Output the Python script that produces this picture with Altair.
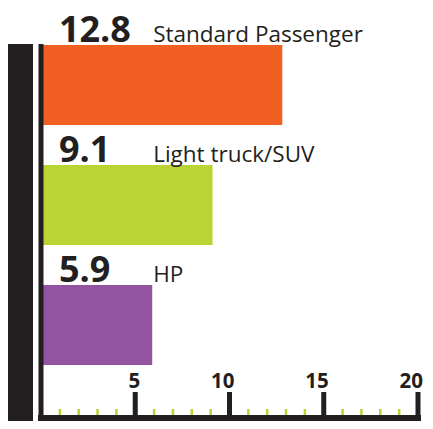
import altair as alt
import pandas as pd

categories = ["Standard Passenger", "Light truck/SUV", "HP"]
values = [12.8, 9.1, 5.9]
value_labels = ["12.8", "9.1", "5.9"]
bar_colors = ["#F15F22", "#B9D433", "#9254A0"]
major_ticks = [5, 10, 15, 20]
major_labels = ["5", "10", "15", "20"]
minor_ticks = [1, 2, 3, 4, 6, 7, 8, 9, 11, 12, 13, 14, 16, 17, 18, 19]

DARK = "#231F20"
GREEN = "#B9D433"
FONT = "Open Sans"

df = pd.DataFrame({"cat": categories, "value": values, "label": value_labels, "color": bar_colors})
major_df = pd.DataFrame({"t": major_ticks, "lab": major_labels})
minor_df = pd.DataFrame({"t": minor_ticks})
one = pd.DataFrame({"a": [0]})

xscale = alt.Scale(domain=[0, 20], range=[33, 410], nice=False, zero=False)
yscale = alt.Scale(domain=categories, range=[37, 357], paddingInner=1 / 3, paddingOuter=0)

base = alt.Chart(df)

bars = base.mark_bar().encode(
    x=alt.X("value:Q", scale=xscale, axis=None),
    y=alt.Y("cat:N", scale=yscale, axis=None, sort=categories),
    color=alt.Color("color:N", scale=None, legend=None),
)

vlabels = base.mark_text(
    align="left", baseline="alphabetic", font=FONT, fontWeight="bold",
    fontSize=36, color=DARK, dy=-3
).encode(
    x=alt.X(datum=0.95, scale=xscale, axis=None),
    y=alt.Y("cat:N", scale=yscale, axis=None, sort=categories, bandPosition=0),
    text="label:N",
)

clabels = base.mark_text(
    align="left", baseline="alphabetic", font=FONT, fontWeight="normal",
    fontSize=22.5, color=DARK, dy=-3
).encode(
    x=alt.X(datum=5.95, scale=xscale, axis=None),
    y=alt.Y("cat:N", scale=yscale, axis=None, sort=categories, bandPosition=0),
    text="cat:N",
)

thick = alt.Chart(one).mark_rule(color=DARK, strokeWidth=25).encode(
    x=alt.value(12.5), y=alt.value(36), y2=alt.value(413)
)

vline = alt.Chart(one).mark_rule(color=DARK, strokeWidth=5).encode(
    x=alt.X(datum=0, scale=xscale, axis=None), y=alt.value(36), y2=alt.value(413)
)

hline = alt.Chart(one).mark_rule(color=DARK, strokeWidth=6, strokeCap="square").encode(
    x=alt.X(datum=0, scale=xscale, axis=None), x2=alt.X2(datum=20), y=alt.value(410)
)

majors = alt.Chart(major_df).mark_rule(color=DARK, strokeWidth=5).encode(
    x=alt.X("t:Q", scale=xscale, axis=None), y=alt.value(384), y2=alt.value(408)
)

minors = alt.Chart(minor_df).mark_rule(color=GREEN, strokeWidth=2.5).encode(
    x=alt.X("t:Q", scale=xscale, axis=None), y=alt.value(401), y2=alt.value(408)
)

tlabels = alt.Chart(major_df).mark_text(
    align="right", baseline="alphabetic", font=FONT, fontWeight="bold",
    fontSize=20.5, color=DARK, dx=5
).encode(
    x=alt.X("t:Q", scale=xscale, axis=None), y=alt.value(380), text="lab:N"
)

chart = alt.layer(
    bars, vlabels, clabels, thick, minors, majors, vline, hline, tlabels
).properties(
    width=417, height=413, padding=0, autosize=alt.AutoSizeParams(type="none")
).configure_view(stroke=None)

chart.save("out.html", embed_options={"renderer": "svg", "actions": False})
